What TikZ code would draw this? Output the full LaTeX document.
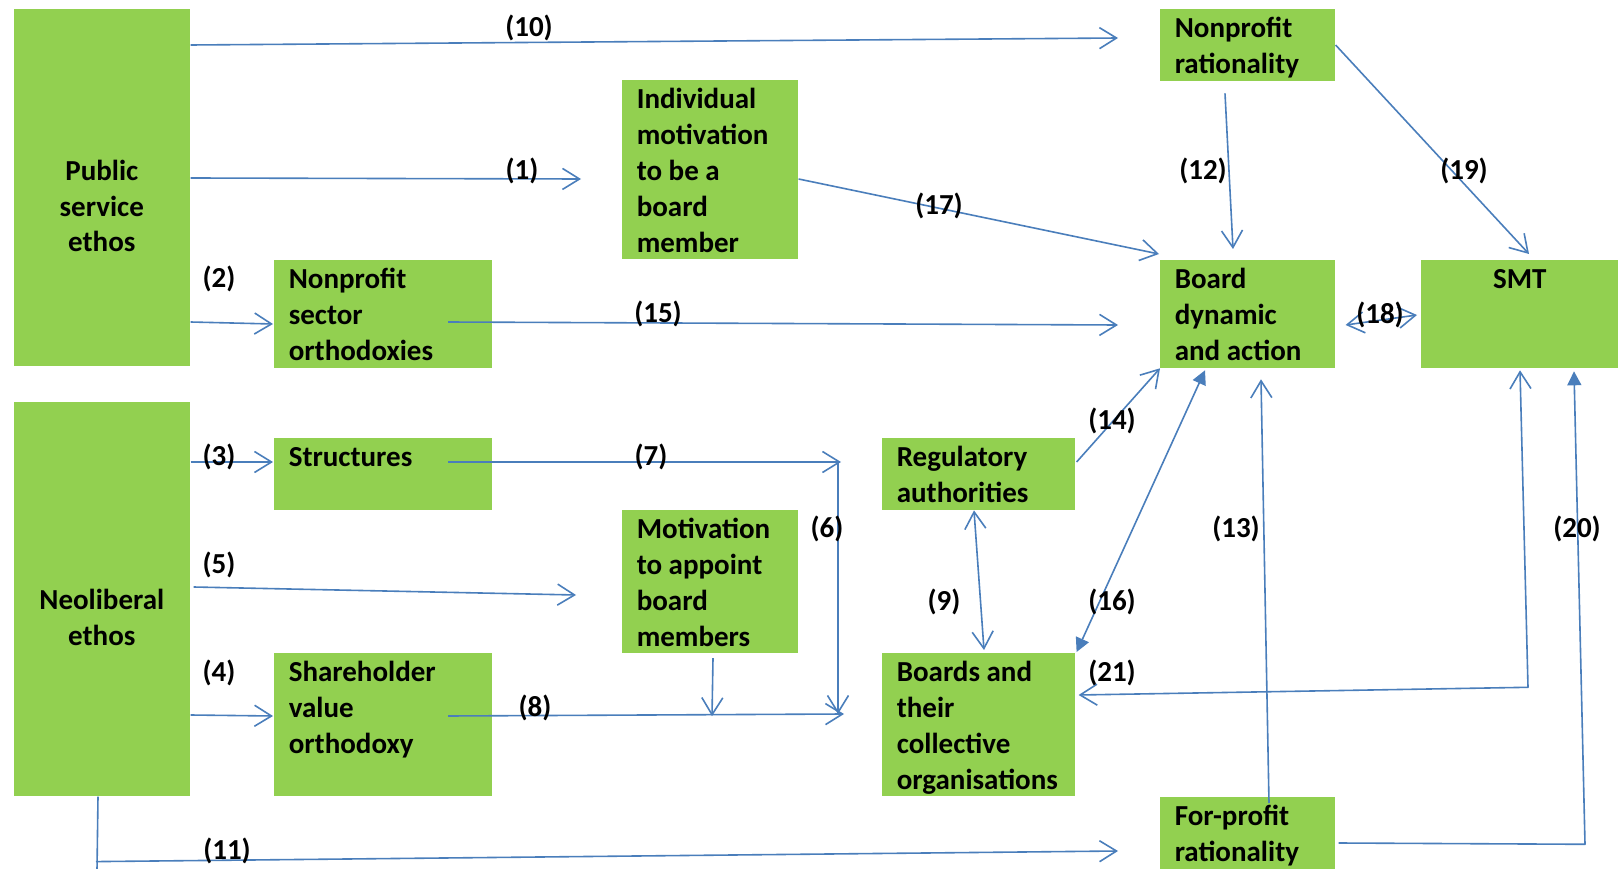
\documentclass[tikz,border=0pt]{standalone}
\usepackage{fontspec}
\setmainfont{Carlito}
\usepackage{tikz}
\usetikzlibrary{arrows.meta,calc}
\definecolor{leaf}{HTML}{92D050}
\definecolor{wire}{HTML}{4A7EBB}
\hyphenpenalty=10000
\exhyphenpenalty=10000
\newcommand\topstrut{\rule{0pt}{28.8pt}}
\newcommand\botstrut{\rule[-7.1pt]{0pt}{7.1pt}}
\tikzset{box/.style={rectangle,fill=leaf,inner xsep=15pt,inner ysep=0pt,anchor=north west,align=flush left,
  font=\bfseries\fontsize{29pt}{35.9pt}\selectfont,execute at begin node=\topstrut,execute at end node=\botstrut},
  wh/.style 2 args={text width=#1-30pt,minimum width=#1,minimum height=#2},
  num/.style={font=\bfseries\fontsize{29pt}{35.9pt}\selectfont,inner sep=0pt}}

\begin{document}
\begin{tikzpicture}[x=1pt,y=-1pt,>={Straight Barb[length=17pt,width=21pt]},line join=round,
  every path/.style={draw=wire,line width=1.6pt}]
\useasboundingbox[draw=none] (0,0) rectangle (1618,869);
% --- boxes
\node[box,wh={176pt}{357pt},align=center] (pse) at (13,8) {\mbox{}\\Public\\service\\ethos};
\node[box,wh={218pt}{106pt}] (nso) at (273,259) {Nonprofit\\sector\\orthodoxies};
\node[box,wh={176pt}{179pt}] (imb) at (621,79) {Individual\\motivation\\to be a\\board\\member};
\node[box,wh={175pt}{70pt}] (npr) at (1159,8) {Nonprofit\\rationality};
\node[box,wh={175pt}{106pt}] (bda) at (1159,259) {Board\\dynamic\\and action};
\node[box,wh={198pt}{106pt},align=center] (smt) at (1420,259) {SMT\\\mbox{}\\\mbox{}};
\node[box,wh={176pt}{394pt},align=center] (neo) at (13,401) {\mbox{}\\Neoliberal\\ethos};
\node[box,wh={218pt}{71pt}] (str) at (273,437) {Structures\\\mbox{}};
\node[box,wh={176pt}{143pt}] (mab) at (621,509) {Motivation\\to appoint\\board\\members};
\node[box,wh={218pt}{143pt}] (svo) at (273,652) {Shareholder\\value\\orthodoxy\\\mbox{}};
\node[box,wh={193pt}{71pt}] (reg) at (881,437) {Regulatory\\authorities};
\node[box,wh={193pt}{143pt}] (bco) at (881,652) {Boards and\\their\\collective\\organisations};
\node[box,wh={175pt}{70pt}] (fpr) at (1159,796) {For-profit\\rationality};
% --- links from the public service ethos side
\draw[->] ($(pse.north east)+(0,37)$) -- ($(npr.north west)+(-41,30)$);
\draw[->] ($(pse.north east)+(0,170)$) -- ($(imb.north west)+(-40,100)$);
\draw[->] ($(pse.north east)+(0,314)$) -- ($(nso.north west)+(0,65)$);
\draw[->] ($(nso.north west)+(175,63)$) -- ($(bda.north west)+(-41,66)$);
\draw[->] ($(imb.north east)+(0,100)$) -- ($(bda.north west)+(0,-5)$);
\draw[->] ($(npr.south west)+(66,12)$) -- ($(bda.north west)+(74,-10)$);
\draw[->] ($(npr.north east)+(0,37)$) -- ($(smt.north west)+(109,-5)$);
\draw[<->] ($(bda.north east)+(10,66)$) -- ($(smt.north west)+(-3,56)$);
% --- links from the neoliberal side
\coordinate (j7) at ($(reg.north west)+(-40,25)$);
\coordinate (j8) at ($(j7)+(3,252)$);
\draw[->] ($(neo.north east)+(0,61)$) -- ($(str.north west)+(0,25)$);
\draw[->] ($(str.north west)+(175,25)$) -- (j7);
\draw[->] ($(j7)+(-3,0)$) -- ($(j8)+(-6,0)$);
\draw[->] ($(neo.north east)+(3,186)$) -- ($(mab.north west)+(-45,86)$);
\draw[->] ($(neo.north east)+(0,314)$) -- ($(svo.north west)+(0,64)$);
\draw[->] ($(svo.north west)+(175,64)$) -- (j8);
\draw[->] ($(mab.south west)+(92,4)$) -- ($(mab.south west)+(91,62)$);
\draw ($(neo.south west)+(85,0)$) -- ($(neo.south west)+(84,74)$);
\draw[->] ($(neo.south west)+(83,65)$) -- ($(fpr.north west)+(-41,55)$);
% --- right hand side
\draw[<->] ($(reg.south west)+(93,0)$) -- ($(bco.north west)+(103,-2)$);
\draw[->] ($(reg.north east)+(1,25)$) -- ($(bda.south west)+(1,0)$);
\draw[{Triangle[length=14pt,width=14pt]}-{Triangle[length=14pt,width=14pt]}] ($(bda.south west)+(46,2)$) -- ($(bco.north east)+(1,0)$);
\draw[->] ($(fpr.north west)+(110,7)$) -- ($(bda.south west)+(102,11)$);
\draw[<->] ($(smt.south west)+(100,2)$) -- ($(smt.south west)+(108,319)$) -- ($(bco.north east)+(3,43)$);
\draw[-{Triangle[length=14pt,width=14pt]}] ($(fpr.north east)+(3,47)$) -- ($(smt.south west)+(165,476)$) -- ($(smt.south west)+(154,3)$);
% --- numbers
\foreach \k/\x/\y in {10/529/26,1/522/169,2/219/277,15/658/312,17/939/204,12/1203/169,19/1464/169,
  18/1380/313,3/219/455,7/651/455,6/827/527,5/219/563,4/219/671,8/535/706,9/944/600,
  14/1112/419,16/1112/600,13/1236/527,21/1112/671,20/1577/527,11/227/849}
  \node[num] (l\k) at (\x,\y+2) {(\k)};
\end{tikzpicture}
\end{document}
